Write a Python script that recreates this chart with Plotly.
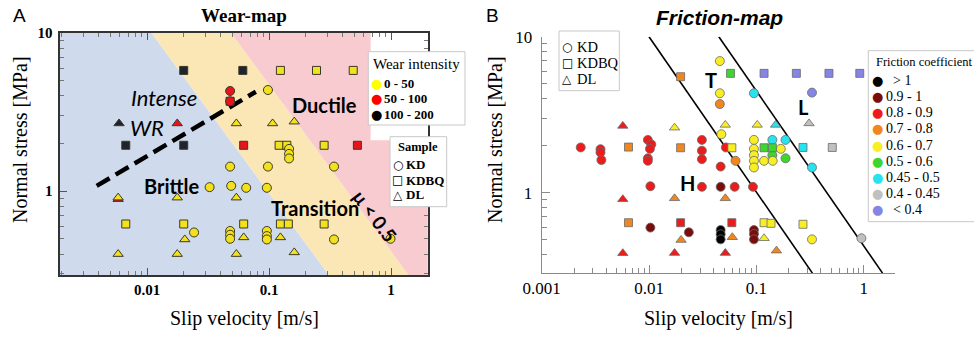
import math
import plotly.graph_objects as go

# ---------------- Panel A : Wear-map data ----------------
A_KD_v = [0.048, 0.048, 0.098, 0.146, 0.146, 0.146, 0.048, 0.098, 0.341, 0.0326, 0.049,
          0.065, 0.096, 0.0243, 0.048, 0.048, 0.048, 0.096, 0.096, 0.096, 0.341, 0.99]
A_KD_s = [4.3, 3.7, 4.36, 1.85, 1.72, 1.61, 1.43, 1.43, 1.43, 1.06, 1.08,
          1.05, 1.05, 0.548, 0.56, 0.53, 0.50, 0.56, 0.52, 0.495, 0.495, 0.50]
A_KD_wear = ["50 - 100", "50 - 100", "0 - 50", "0 - 50", "0 - 50", "0 - 50", "0 - 50", "0 - 50",
             "0 - 50", "0 - 50", "0 - 50", "0 - 50", "0 - 50", "0 - 50", "0 - 50", "0 - 50",
             "0 - 50", "0 - 50", "0 - 50", "0 - 50", "0 - 50", "0 - 50"]

A_KDBQ_v = [0.020, 0.061, 0.124, 0.245, 0.49, 0.048, 0.0067, 0.020, 0.062, 0.121,
            0.14, 0.283, 0.53, 0.0067, 0.020, 0.062, 0.124, 0.144, 0.283]
A_KDBQ_s = [5.8, 5.8, 5.8, 5.8, 5.8, 3.7, 1.95, 1.95, 1.95, 1.95,
            1.95, 1.95, 1.95, 0.62, 0.62, 0.62, 0.62, 0.62, 0.62]
A_KDBQ_wear = ["100 - 200", "100 - 200", "0 - 50", "0 - 50", "0 - 50", "100 - 200", "100 - 200",
               "100 - 200", "50 - 100", "0 - 50", "0 - 50", "0 - 50", "50 - 100", "0 - 50",
               "0 - 50", "0 - 50", "0 - 50", "0 - 50", "0 - 50"]

A_DL_v = [0.0059, 0.0177, 0.054, 0.107, 0.161, 0.0058, 0.0058, 0.0177, 0.054, 0.0204,
          0.062, 0.124, 0.0058, 0.0177, 0.054, 0.161]
A_DL_s = [2.68, 2.68, 2.68, 2.68, 2.75, 0.89, 0.91, 0.91, 0.91, 0.495,
          0.51, 0.51, 0.40, 0.40, 0.40, 0.41]
A_DL_wear = ["100 - 200", "50 - 100", "0 - 50", "0 - 50", "0 - 50", "50 - 100", "0 - 50",
             "0 - 50", "0 - 50", "0 - 50", "0 - 50", "0 - 50", "0 - 50", "0 - 50", "0 - 50", "0 - 50"]

# regime regions (slip velocity, normal stress polygons)
A_brittle_v = [0.0019, 0.0109, 0.309, 0.0019]
A_brittle_s = [10, 10, 0.295, 0.295]
A_transition_v = [0.0109, 0.049, 1.39, 0.309]
A_transition_s = [10, 10, 0.295, 0.295]
A_ductile_v = [0.049, 0.68, 0.68, 2.0, 2.0, 1.39]
A_ductile_s = [10, 10, 2.1, 2.1, 0.295, 0.295]
# intense wear-rate (WR) dashed boundary
A_WR_v = [0.00387, 0.078]
A_WR_s = [1.08, 4.25]

WEAR_CLASSES = ["0 - 50", "50 - 100", "100 - 200"]

# ---------------- Panel B : Friction-map data ----------------
B_KD_v = [0.00231, 0.00353, 0.00353, 0.0036, 0.00975, 0.0105, 0.0102, 0.00975, 0.00975, 0.0103,
          0.0103, 0.0235, 0.0311, 0.0311, 0.0311, 0.0311, 0.0457, 0.0457, 0.0457, 0.0472,
          0.052, 0.064, 0.0465, 0.0465, 0.0628, 0.093, 0.0465, 0.0465, 0.0465, 0.095,
          0.095, 0.095, 0.095, 0.095, 0.095, 0.095, 0.095, 0.095, 0.141, 0.187,
          0.169, 0.141, 0.118, 0.142, 0.187, 0.33, 0.33, 0.33, 0.953]
B_KD_s = [1.95, 1.90, 1.81, 1.62, 2.18, 2.04, 1.91, 1.66, 1.60, 1.10,
          0.597, 0.557, 2.18, 1.86, 1.64, 1.09, 6.98, 4.34, 3.70, 2.37,
          1.95, 1.60, 1.47, 1.09, 1.09, 1.09, 0.576, 0.541, 0.502, 0.576,
          0.543, 0.502, 4.34, 2.18, 1.91, 1.74, 1.60, 1.45, 2.18, 2.18,
          1.91, 1.74, 1.60, 1.60, 1.66, 4.38, 1.45, 0.502, 0.51]
B_KD_mu = ["0.8 - 0.9", "0.8 - 0.9", "0.8 - 0.9", "0.8 - 0.9", "0.8 - 0.9", "0.8 - 0.9", "0.8 - 0.9",
           "0.8 - 0.9", "0.8 - 0.9", "0.8 - 0.9", "0.9 - 1", "0.9 - 1", "0.8 - 0.9", "0.8 - 0.9",
           "0.8 - 0.9", "0.8 - 0.9", "0.6 - 0.7", "0.6 - 0.7", "0.7 - 0.8", "0.6 - 0.7",
           "0.8 - 0.9", "0.7 - 0.8", "0.8 - 0.9", "0.9 - 1", "0.8 - 0.9", "0.8 - 0.9",
           "> 1", "> 1", "> 1", "0.9 - 1", "0.9 - 1", "0.9 - 1", "0.45 - 0.5", "0.6 - 0.7",
           "0.6 - 0.7", "0.6 - 0.7", "0.6 - 0.7", "0.6 - 0.7", "0.45 - 0.5", "0.45 - 0.5",
           "0.6 - 0.7", "0.5 - 0.6", "0.6 - 0.7", "0.6 - 0.7", "0.5 - 0.6", "< 0.4",
           "0.45 - 0.5", "0.6 - 0.7", "0.4 - 0.45"]

B_KDBQ_v = [0.0197, 0.0575, 0.118, 0.236, 0.475, 0.92, 0.00644, 0.0197, 0.0591, 0.118,
            0.141, 0.272, 0.51, 0.00644, 0.0197, 0.0591, 0.118, 0.137, 0.272]
B_KDBQ_s = [5.54, 5.82, 5.82, 5.82, 5.82, 5.82, 1.96, 1.94, 1.94, 1.94,
            1.94, 1.95, 1.95, 0.642, 0.642, 0.642, 0.642, 0.636, 0.627]
B_KDBQ_mu = ["0.7 - 0.8", "0.5 - 0.6", "< 0.4", "< 0.4", "< 0.4", "< 0.4", "0.7 - 0.8", "0.7 - 0.8",
             "0.6 - 0.7", "0.5 - 0.6", "0.5 - 0.6", "0.45 - 0.5", "0.4 - 0.45", "0.7 - 0.8",
             "0.8 - 0.9", "0.8 - 0.9", "0.6 - 0.7", "0.6 - 0.7", "0.6 - 0.7"]

B_DL_v = [0.0057, 0.0173, 0.0514, 0.102, 0.151, 0.31, 0.0057, 0.0173, 0.0514, 0.0199,
          0.0597, 0.118, 0.0057, 0.0173, 0.0514, 0.154]
B_DL_s = [2.68, 2.61, 2.72, 2.72, 2.72, 2.78, 0.907, 0.92, 0.92, 0.497,
          0.518, 0.51, 0.409, 0.41, 0.41, 0.425]
B_DL_mu = ["0.8 - 0.9", "0.6 - 0.7", "0.6 - 0.7", "0.6 - 0.7", "0.45 - 0.5", "0.4 - 0.45",
           "0.8 - 0.9", "0.7 - 0.8", "0.7 - 0.8", "0.7 - 0.8", "0.7 - 0.8", "0.6 - 0.7",
           "0.8 - 0.9", "0.8 - 0.9", "0.8 - 0.9", "0.7 - 0.8"]

# regime boundaries (H | T | L)
B_lineT_v = [0.01, 0.333]
B_lineT_s = [10, 0.305]
B_lineL_v = [0.0447, 1.5]
B_lineL_s = [10, 0.305]

FRICTION_CLASSES = ["> 1", "0.9 - 1", "0.8 - 0.9", "0.7 - 0.8", "0.6 - 0.7",
                    "0.5 - 0.6", "0.45 - 0.5", "0.4 - 0.45", "< 0.4"]
SAMPLES = ["KD", "KDBQ", "DL"]

# ---------------- styles ----------------
WEAR_COLORS = {"0 - 50": "#f2e11c", "50 - 100": "#e8141b", "100 - 200": "#1f232c"}
WEAR_LEG_COLORS = {"0 - 50": "#ffff00", "50 - 100": "#ff0000", "100 - 200": "#000000"}
FRIC_COLORS = {"> 1": "#000000", "0.9 - 1": "#7a0c0c", "0.8 - 0.9": "#ec1c1c",
               "0.7 - 0.8": "#f2861e", "0.6 - 0.7": "#f7ee24", "0.5 - 0.6": "#3ed62e",
               "0.45 - 0.5": "#27e2ef", "0.4 - 0.45": "#c0c0c0", "< 0.4": "#8585e6"}
SYMBOLS = {"KD": "circle", "KDBQ": "square", "DL": "triangle-up"}
SIZES = {"KD": 9, "KDBQ": 8, "DL": 9}
SERIF = "Liberation Serif"
SANS = "Liberation Sans"
LATO = "Lato"
W, H = 974, 338


def px(x):
    return x / W


def py(y):
    return 1 - y / H


fig = go.Figure()

# Panel A regime backgrounds
for v, s, col in [(A_brittle_v, A_brittle_s, "#cfdbec"),
                  (A_transition_v, A_transition_s, "#fbe6b6"),
                  (A_ductile_v, A_ductile_s, "#f7cbcf")]:
    fig.add_trace(go.Scatter(x=v, y=s, fill="toself", fillcolor=col, mode="lines",
                             line=dict(width=0), hoverinfo="skip", showlegend=False,
                             xaxis="x", yaxis="y"))

fig.add_trace(go.Scatter(x=A_WR_v, y=A_WR_s, mode="lines",
                         line=dict(color="black", width=4.5, dash="15px,7px"),
                         showlegend=False, xaxis="x", yaxis="y"))

for name, v, s, cls in [("KDBQ", A_KDBQ_v, A_KDBQ_s, A_KDBQ_wear),
                        ("DL", A_DL_v, A_DL_s, A_DL_wear),
                        ("KD", A_KD_v, A_KD_s, A_KD_wear)]:
    fig.add_trace(go.Scatter(
        x=v, y=s, mode="markers", name=name, showlegend=False, xaxis="x", yaxis="y",
        marker=dict(symbol=SYMBOLS[name], size=SIZES[name],
                    color=[WEAR_COLORS[c] for c in cls],
                    line=dict(color="#3a3a2a", width=1))))

# Panel B
for v, s in [(B_lineT_v, B_lineT_s), (B_lineL_v, B_lineL_s)]:
    fig.add_trace(go.Scatter(x=v, y=s, mode="lines", line=dict(color="black", width=1.6),
                             showlegend=False, xaxis="x2", yaxis="y2", hoverinfo="skip"))

for name, v, s, cls in [("KD", B_KD_v, B_KD_s, B_KD_mu),
                        ("DL", B_DL_v, B_DL_s, B_DL_mu),
                        ("KDBQ", B_KDBQ_v, B_KDBQ_s, B_KDBQ_mu)]:
    fig.add_trace(go.Scatter(
        x=v, y=s, mode="markers", name=name, showlegend=False, xaxis="x2", yaxis="y2",
        marker=dict(symbol=SYMBOLS[name], size=SIZES[name],
                    color=[FRIC_COLORS[c] for c in cls],
                    line=dict(color="#6a6a6a", width=0.8))))

# ---------------- axes ----------------
def minor_vals(lo, hi):
    out = []
    for e in range(lo, hi):
        for k in range(2, 10):
            out.append(k * 10 ** e)
    return out


axA = dict(type="log", showgrid=False, zeroline=False, showline=True, linecolor="#333",
           linewidth=1.6, mirror="ticks", ticks="inside", ticklen=7, tickcolor="#555",
           tickwidth=1, automargin=False)
fig.update_layout(
    xaxis=dict(axA, domain=[px(60), px(428)], range=[-2.713, 0.303], anchor="y",
               tickvals=[0.01, 0.1, 1], ticktext=["0.01", "0.1", "1"],
               tickfont=dict(family=SERIF, size=15, color="black", weight="bold"),
               minor=dict(ticks="inside", ticklen=4, tickvals=minor_vals(-3, 1),
                          tickcolor="#777", showgrid=False)),
    yaxis=dict(axA, domain=[py(275), py(33)], range=[math.log10(0.295), 1.0], anchor="x",
               tickvals=[1, 10], ticktext=["1", "10"], ticklabelstandoff=3,
               tickfont=dict(family=SERIF, size=15, color="black", weight="bold"),
               minor=dict(ticks="inside", ticklen=4, tickvals=minor_vals(-1, 1),
                          tickcolor="#777", showgrid=False)),
)
axB = dict(type="log", showgrid=False, zeroline=False, showline=True, linecolor="#8a8a8a",
           linewidth=1, mirror=False, ticks="inside", ticklen=8, tickcolor="#8a8a8a",
           tickwidth=1, automargin=False)
fig.update_layout(
    xaxis2=dict(axB, domain=[px(541.7), px(895)], range=[-3.0, 0.292], anchor="y2",
                tickvals=[0.001, 0.01, 0.1, 1], ticktext=["0.001", "0.01", "0.1", "1"],
                tickfont=dict(family=SERIF, size=17, color="black"),
                minor=dict(ticks="inside", ticklen=5, tickvals=minor_vals(-3, 1),
                           tickcolor="#8a8a8a", showgrid=False)),
    yaxis2=dict(axB, domain=[py(273), py(36.7)], range=[-0.515, 1.0], anchor="x2",
                tickvals=[1, 10], ticktext=["1", "10"], ticklabelstandoff=5,
                tickfont=dict(family=SERIF, size=17, color="black"),
                minor=dict(ticks="inside", ticklen=5, tickvals=minor_vals(-1, 1),
                           tickcolor="#8a8a8a", showgrid=False)),
)

# ---------------- text ----------------
ann = []


def paper_text(x, y, text, size, family=SERIF, color="black", xanchor="center", **font_kw):
    ann.append(dict(x=px(x), y=py(y), xref="paper", yref="paper", text=text, showarrow=False,
                    xanchor=xanchor, yanchor="middle",
                    font=dict(family=family, size=size, color=color, **font_kw)))


def data_text(ax, lx, ly, text, size, angle=0, **font_kw):
    ann.append(dict(x=lx, y=ly, xref=ax[0], yref=ax[1], text=text, showarrow=False,
                    textangle=angle, xanchor="center", yanchor="middle",
                    font=dict(family=LATO, size=size, color="black", **font_kw)))


# panel letters and titles
paper_text(19, 15, "A", 19, family=SANS)
paper_text(492, 15, "B", 19, family=SANS)
paper_text(244, 15, "Wear-map", 19, weight="bold")
paper_text(719, 17, "Friction-map", 21, family=SANS, weight="bold", style="italic")

# axis titles
for cx in (244, 718):
    paper_text(cx, 318, "Slip velocity [m/s]", 20)
for cx in (20, 495):
    ann.append(dict(x=px(cx), y=py(140), xref="paper", yref="paper",
                    text="Normal stress [MPa]", showarrow=False, textangle=-90,
                    xanchor="center", yanchor="middle",
                    font=dict(family=SERIF, size=20, color="black")))

# regime labels panel A
data_text(("x", "y"), -1.857, 0.595, "Intense", 22, style="italic")
data_text(("x", "y"), -2.004, 0.405, "WR", 22, style="italic")
data_text(("x", "y"), -1.792, 0.032, "Brittle", 20, weight="bold")
data_text(("x", "y"), -0.543, 0.544, "Ductile", 20, weight="bold")
data_text(("x", "y"), -0.624, -0.108, "Transition", 20, weight="bold")
data_text(("x", "y"), -0.135, -0.155, "μ < 0.5", 19, angle=53, weight="bold")
# regime labels panel B
data_text(("x2", "y2"), -1.426, 0.722, "T", 20, weight="bold")
data_text(("x2", "y2"), -0.565, 0.547, "L", 20, weight="bold")
data_text(("x2", "y2"), -1.638, 0.060, "H", 20, weight="bold")

shapes = []


def box(x0, y0, x1, y1, color="#c8c8c8"):
    shapes.append(dict(type="rect", xref="paper", yref="paper", x0=px(x0), x1=px(x1),
                       y0=py(y1), y1=py(y0), fillcolor="white",
                       line=dict(color=color, width=1), layer="above"))


SHAPE_GLYPH = {"KD": "○", "KDBQ": "□", "DL": "△"}

# Wear intensity legend
box(368.3, 51.7, 465, 125)
paper_text(416.7, 63.5, "Wear intensity", 15)
for i, c in enumerate(WEAR_CLASSES):
    y = 83.5 + 15.3 * i
    paper_text(376.5, y, "●", 13, family="DejaVu Sans", color=WEAR_LEG_COLORS[c])
    paper_text(382, y, c, 13, xanchor="left", weight="bold")

# Sample legend (panel A)
box(390, 136.7, 446.7, 206.7)
paper_text(417.7, 147, "Sample", 12.5, weight="bold")
for i, sname in enumerate(SAMPLES):
    y = 165 + 15 * i
    paper_text(397.7, y, SHAPE_GLYPH[sname], 12, family="DejaVu Sans")
    paper_text(404, y, sname, 13, xanchor="left", weight="bold")

# Sample legend (panel B)
box(559, 31, 619.3, 90.7)
for i, sname in enumerate(SAMPLES):
    y = 47 + 16 * i
    paper_text(567.3, y, SHAPE_GLYPH[sname], 12, family="DejaVu Sans")
    paper_text(574.5, y, sname, 14.5, xanchor="left")

# Friction coefficient legend
box(868.3, 50.7, 990, 221.7)
paper_text(873.5, 62, "Friction coefficient", 12.5, xanchor="left")
for i, c in enumerate(FRICTION_CLASSES):
    y = 80.7 + 16.08 * i
    paper_text(877.7, y, "●", 13, family="DejaVu Sans", color=FRIC_COLORS[c])
    label = ("  " + c) if c.startswith((">", "<")) else c
    paper_text(884, y, label, 14, xanchor="left")

fig.update_layout(width=W, height=H, margin=dict(l=0, r=0, t=0, b=0),
                  plot_bgcolor="white", paper_bgcolor="white",
                  annotations=ann, shapes=shapes, showlegend=False)

fig.write_html("out.html", config={"displayModeBar": False, "staticPlot": True},
               post_script="document.body.style.margin='0';document.body.style.overflow='hidden';")
